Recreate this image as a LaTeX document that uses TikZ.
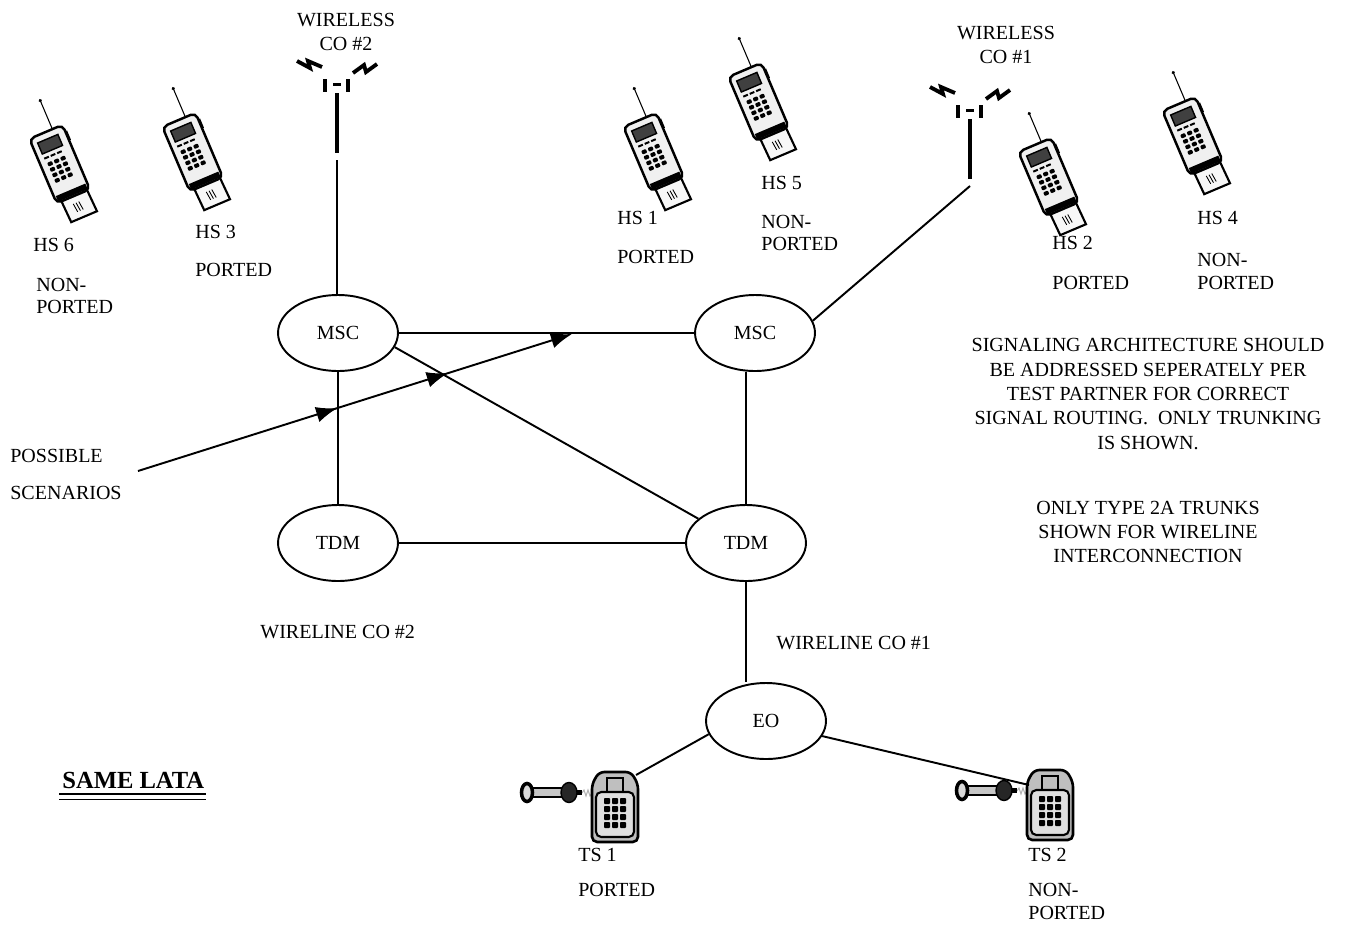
\documentclass[tikz,border=0pt]{standalone}
\usepackage{fontspec}
\setmainfont{Liberation Serif}
\usetikzlibrary{shapes.geometric, decorations.markings, arrows.meta}

\tikzset{
  switch/.style={ellipse, draw, line width=1.1pt, minimum width=2.4cm, minimum height=1.52cm,
    font=\fontsize{11.4}{13.9}\selectfont},
  tag/.style={anchor=west, inner sep=0pt, align=left, font=\fontsize{11.4}{12.6}\selectfont},
  note/.style={inner sep=0pt, align=center, font=\fontsize{11.4}{13.9}\selectfont},
  trunk/.style={line width=1.1pt},
  scenario/.style={line width=1.1pt, -{Latex[length=12pt,width=9pt]},
    decoration={markings,
      mark=at position 0.459 with {\arrow{Latex[length=12pt,width=9pt]}},
      mark=at position 0.714 with {\arrow{Latex[length=12pt,width=9pt]}}},
    postaction={decorate}},
  handset/.pic={
    \draw[line width=0.6pt] (7,-36) -- (7,-67);
    \fill (7,-67) circle (1.8);
    \draw[fill=gray!6, line width=1.2pt] (-13,30) -- (15,30) -- (16,57) -- (-12,57) -- cycle;
    \foreach \x in {-3,0,3} \draw[line width=0.5pt] (\x,41) -- (\x+1,50);
    \fill (16,-29) rectangle (20,-19);
    \draw[fill=gray!12, line width=1.4pt, rounded corners=3pt] (-18,-36) rectangle (18,34);
    \fill (-16,27) rectangle (16,33);
    \draw[fill=black!75, line width=0.8pt] (-12,-29) rectangle (10,-17);
    \foreach \x in {-12,-5,2} \fill (\x,-13) rectangle +(5,2);
    \foreach \r in {0,...,3} \foreach \c in {0,1,2}
      \fill[rounded corners=0.5pt] (-11+\c*7,-7+\r*6) rectangle +(5,4);
  },
  tower/.pic={
    \draw[line width=2.2pt] (-40,-23) -- (-27,-16) -- (-29,-23) -- (-15,-17);
    \draw[line width=2.2pt] (16,-11) -- (27,-19) -- (29,-12) -- (40,-20);
    \fill (-14,-5) rectangle (-10,8);
    \fill (9,-5) rectangle (13,8);
    \fill (-4,-1) rectangle (4,2);
    \fill (-2,9) rectangle (2,69);
    \coordinate (-foot) at (0,76);
  },
  deskset/.pic={
    % cord and handset
    \draw[gray!60, line width=0.6pt] (-33,-13) -- (-31,-16) -- (-29,-10) -- (-27,-16) -- (-25,-10) -- (-23,-13);
    \draw[fill=gray!45, line width=1pt] (-84,-18) rectangle (-52,-9);
    \draw[line width=2pt, fill=gray!30] (-88,-13.5) ellipse (5.5 and 9);
    \draw[fill=black!85, line width=0.8pt] (-46,-13.5) ellipse (8 and 10);
    \fill (-38,-16) rectangle (-33,-11);
    % body
    \draw[fill=gray!50, line width=1.5pt, rounded corners=3pt]
      (-23,36) -- (-23,-22) -- (-16,-34) -- (16,-34) -- (23,-22) -- (23,36) -- cycle;
    \draw[line width=1.2pt] (-8,-14) -- (-8,-28) -- (8,-28) -- (8,-14);
    \draw[fill=gray!25, line width=1.2pt, rounded corners=3pt] (-19,-14) rectangle (19,31);
    \foreach \r in {0,...,3} \foreach \c in {0,1,2}
      \fill[rounded corners=0.5pt] (-11+\c*8,-8+\r*8) rectangle +(6,6);
    \coordinate (-r) at (21,-31);
    \coordinate (-l) at (-21,-19);
  }
}

\begin{document}
\begin{tikzpicture}[x=0.02cm, y=-0.02cm]
\useasboundingbox (0,0) rectangle (1348,930);

% switches
\node[switch] (mscL) at (338,333) {MSC};
\node[switch] (mscR) at (755,333) {MSC};
\node[switch] (tdmL) at (338,543) {TDM};
\node[switch] (tdmR) at (746,543) {TDM};
\node[switch] (eo) at (766,721) {EO};

% wireless sites
\pic (antTwo) at (337,84) {tower};
\pic (antOne) at (970,110) {tower};
\node[note] (coTwo) at (346,32) {WIRELESS\\CO \#2};
\node[note] (coOne) at (1006,45) {WIRELESS\\CO \#1};

\foreach \n/\x/\y in {hsSix/60/165, hsThree/193/153, hsOne/654/153, hsFive/759/103, hsTwo/1049/178, hsFour/1193/137}
  \pic[rotate=23] (\n) at (\x,\y) {handset};

\foreach \n/\x/\y/\t in {hsSixName/33/245/HS 6, hsThreeName/195/232/HS 3, hsOneName/617/218/HS 1,
    hsFiveName/761/183/HS 5, hsTwoName/1052/243/HS 2, hsFourName/1197/218/HS 4}
  \node[tag] (\n) at (\x,\y) {\t};
\node[tag] (hsSixState) at (36,296) {NON-\\PORTED};
\node[tag] (hsThreeState) at (195,270) {PORTED};
\node[tag] (hsOneState) at (617,257) {PORTED};
\node[tag] (hsFiveState) at (761,233) {NON-\\PORTED};
\node[tag] (hsTwoState) at (1052,283) {PORTED};
\node[tag] (hsFourState) at (1197,271.5) {NON-\\PORTED};

% wireline sets
\pic (tsOne) at (615,806) {deskset};
\pic (tsTwo) at (1050,804) {deskset};
\node[tag] (tsOneName) at (578,855) {TS 1};
\node[tag] (tsOneState) at (578,890) {PORTED};
\node[tag] (tsTwoName) at (1028,855) {TS 2};
\node[tag] (tsTwoState) at (1028,901.5) {NON-\\PORTED};

\node[tag] (wlTwo) at (260,632) {WIRELINE CO \#2};
\node[tag] (wlOne) at (776,643) {WIRELINE CO \#1};
\node[tag] (possible) at (10,456) {POSSIBLE};
\node[tag] (scenarios) at (10,493) {SCENARIOS};
\node[tag, font=\fontsize{14}{16}\selectfont\bfseries] (sameLata) at (62,780) {SAME LATA};
\draw[line width=1.6pt] (59,794) -- (206,794);
\draw[line width=0.9pt] (59,799.5) -- (206,799.5);

\node[note] (signalNote) at (1148,394) {SIGNALING ARCHITECTURE SHOULD\\BE ADDRESSED SEPERATELY PER\\TEST PARTNER FOR CORRECT\\SIGNAL ROUTING.\ \ ONLY TRUNKING\\IS SHOWN.};
\node[note] (trunkNote) at (1148,532) {ONLY TYPE 2A TRUNKS\\SHOWN FOR WIRELINE\\INTERCONNECTION};

% trunks
\draw[trunk] (antTwo-foot) -- (antTwo-foot |- mscL.north);
\draw[trunk] (mscL.east) -- (mscR.west);
\draw[trunk] (mscL.-14) -- (tdmR.153);
\draw[trunk] (mscL.south) -- (tdmL.north);
\draw[trunk] (tdmL.east) -- (tdmR.west);
\draw[trunk] (tdmR.north) -- (tdmR.north |- mscR.south);
\draw[trunk] (mscR.12) -- (antOne-foot);
\draw[trunk] (tdmR.south) -- (tdmR.south |- eo.north);
\draw[trunk] (eo.193) -- (tsOne-r);
\draw[trunk] (eo.-15) -- (tsTwo-l);

\coordinate (scenStart) at (138,471);
\coordinate (scenEnd) at (572,334);
\draw[scenario] (scenStart) -- (scenEnd);
\end{tikzpicture}
\end{document}
